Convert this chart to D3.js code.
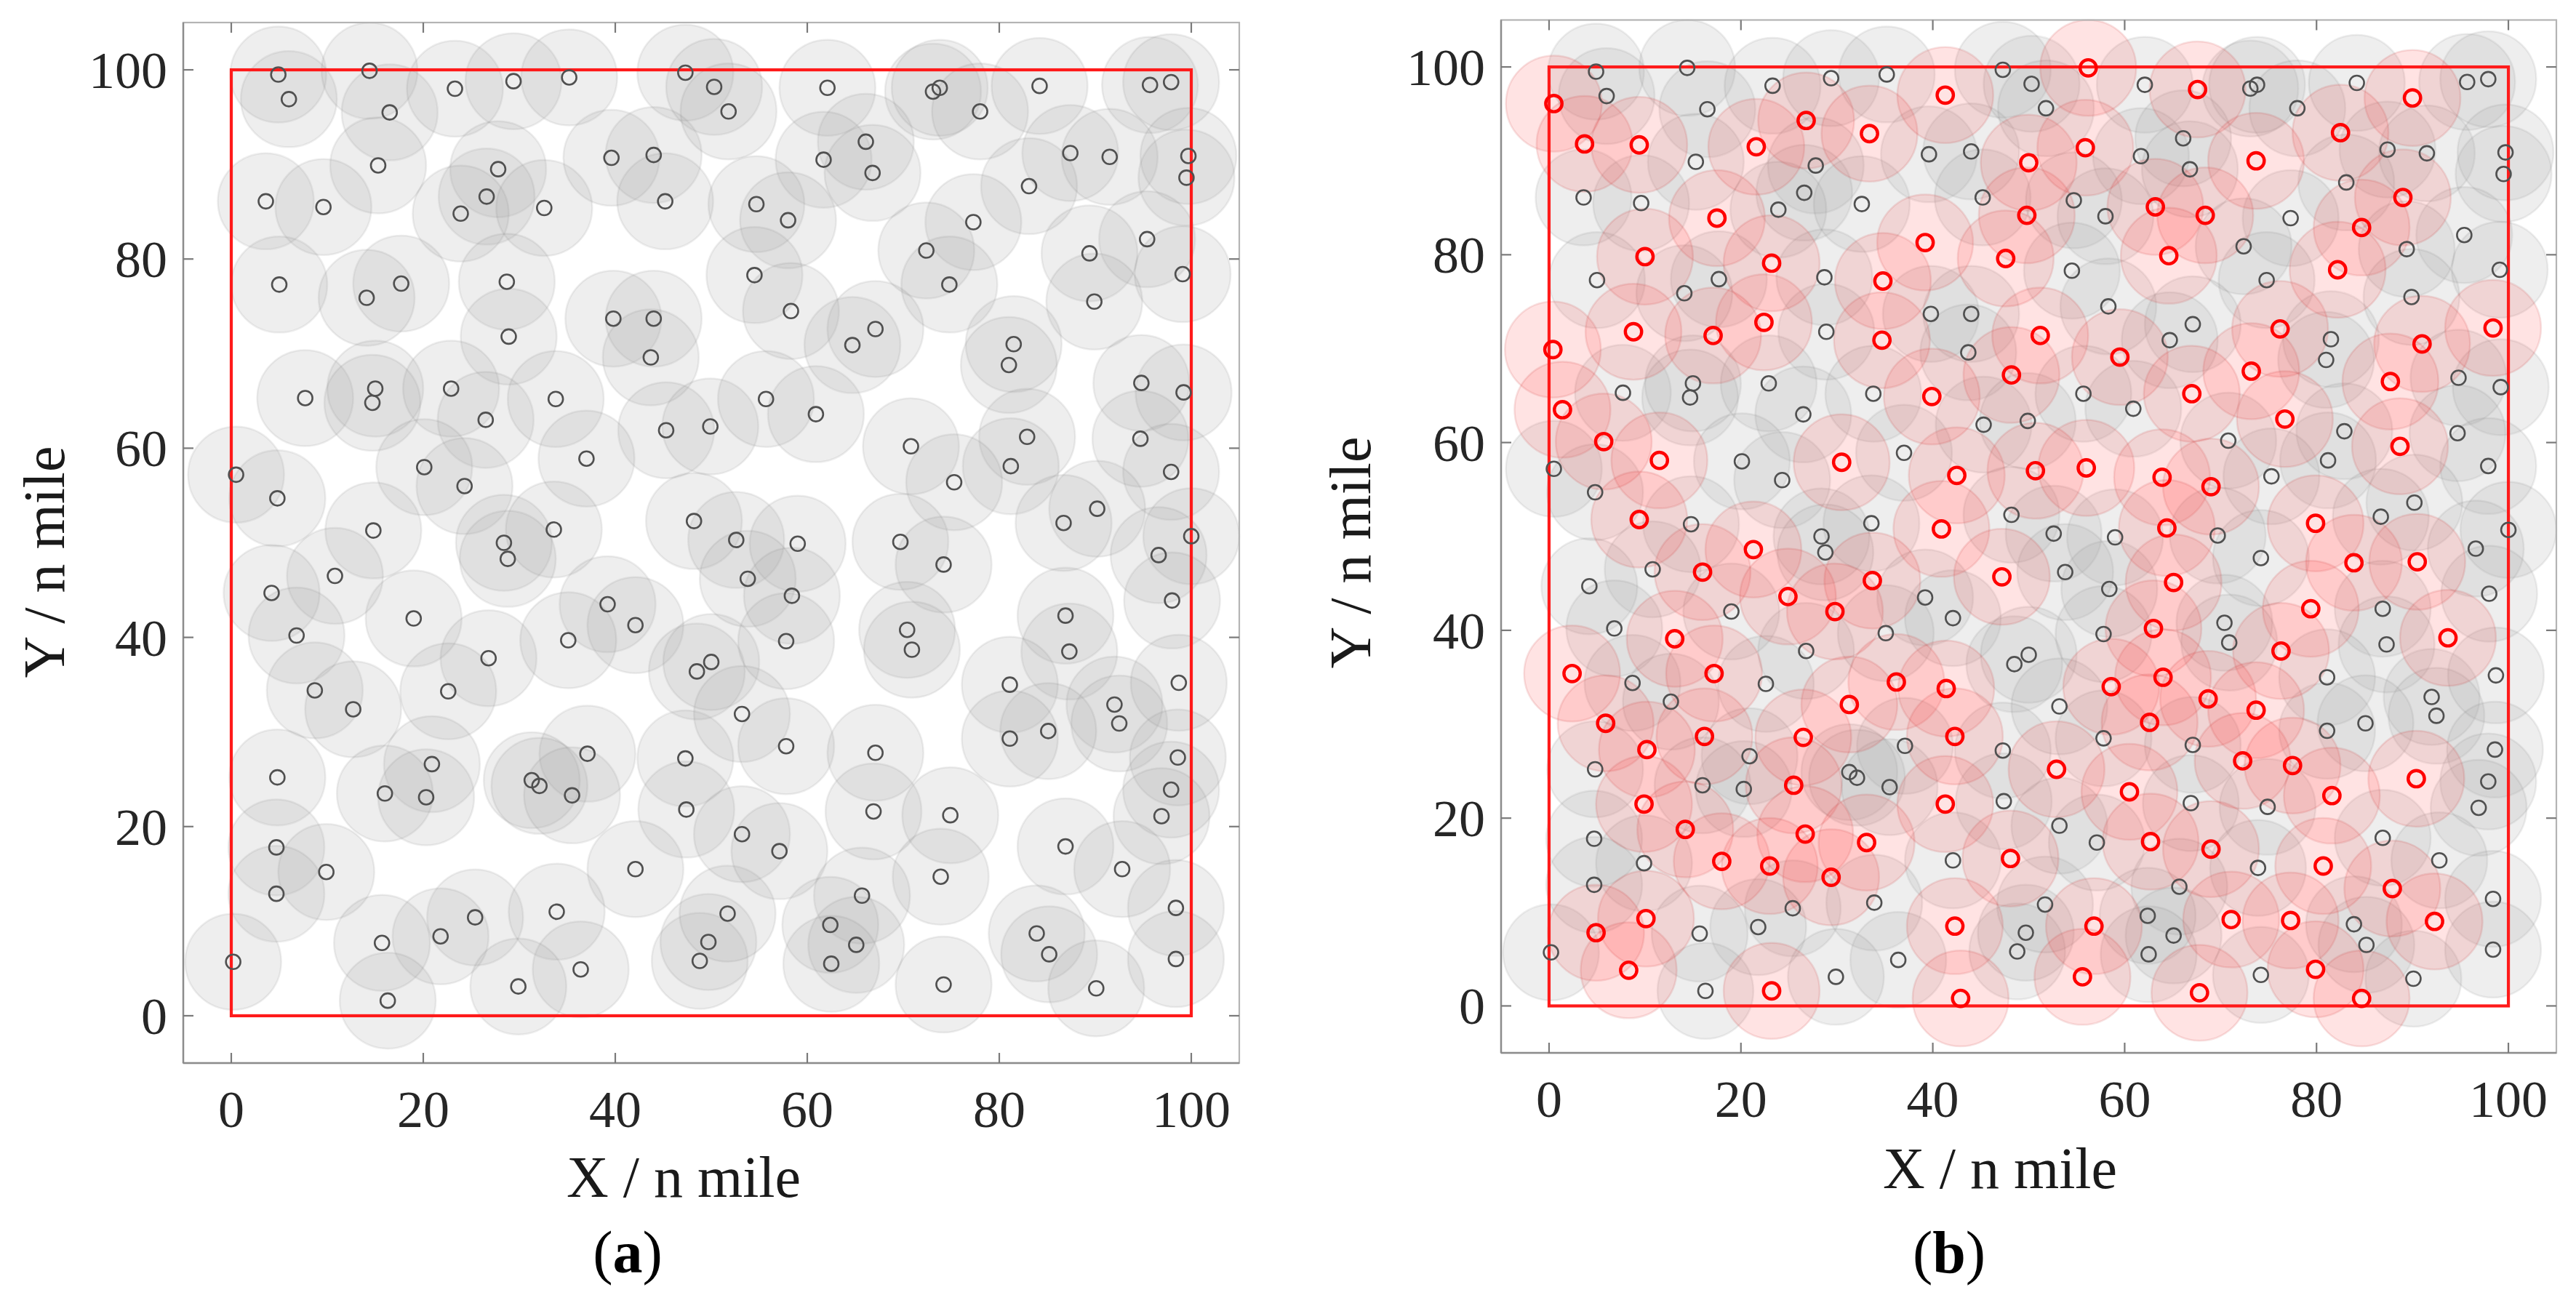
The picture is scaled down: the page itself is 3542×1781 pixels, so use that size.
<!DOCTYPE html>
<html><head><meta charset="utf-8">
<script src="https://cdn.jsdelivr.net/npm/d3@7"></script>
<style>body{margin:0;background:#fff}svg{display:block}</style>
</head><body>
<svg id="c" width="3542" height="1781"></svg>
<script>
// ---- data (n mile) ----
const grayX = [4.9,6.0,14.4,16.5,23.3,29.4,35.2,47.3,50.3,
15.3,3.6,9.6,27.8,26.6,23.9,32.6,39.6,44.0,45.2,
5.0,17.7,14.1,28.7,28.9,39.8,44.0,43.7,
7.7,15.0,14.7,22.9,26.5,33.8,45.3,49.9,
37.0,0.5,4.8,20.1,24.3,14.8,28.4,33.6,48.2,
28.8,10.8,4.2,6.8,19.0,26.8,22.6,8.7,12.7,
39.2,42.1,35.1,48.5,50.0,
4.8,20.9,16.0,20.3,37.1,31.3,32.1,35.5,47.3,47.4,
4.7,9.9,4.7,42.1,25.4,21.8,15.7,33.9,36.4,29.9,16.3,0.2,48.8,49.7,51.7,
51.8,62.1,73.1,73.8,78.0,84.2,95.7,97.9,
66.1,61.7,66.8,87.4,91.5,83.1,99.7,99.5,
54.7,58.0,77.3,72.4,74.8,95.4,89.4,99.1,89.9,
54.5,58.3,67.1,64.7,81.5,81.0,94.8,99.2,
55.7,60.9,70.8,82.9,81.2,75.3,94.7,97.9,90.2,86.7,100.0,
52.6,59.0,69.7,74.2,96.6,98.0,53.8,58.4,57.8,
70.4,70.9,86.9,87.3,81.1,92.0,92.5,98.7,85.1,81.1,
53.2,57.8,67.1,66.9,74.9,98.6,97.9,96.9,
53.2,57.1,86.9,92.8,73.9,65.7,62.4,65.1,62.5,74.2,83.9,85.2,90.1,98.4,98.4];
const grayY = [99.5,96.9,99.9,95.5,98.0,98.8,99.2,99.7,98.2,
89.9,86.1,85.5,89.5,86.6,84.8,85.4,90.7,91.0,86.1,
77.3,77.4,75.9,77.6,71.8,73.7,73.7,69.6,
65.3,66.3,64.8,66.3,63.0,65.2,61.9,62.3,
58.9,57.2,54.7,58.0,56.0,51.3,50.0,51.4,52.3,
48.3,46.5,44.7,40.2,42.0,37.8,34.3,34.4,32.4,
43.5,41.3,39.7,36.4,37.4,
25.2,26.6,23.5,23.1,27.7,24.9,24.3,23.3,27.2,21.8,
17.8,15.2,12.9,15.5,10.4,8.4,7.7,11.0,4.9,3.1,1.6,5.7,5.8,7.8,10.8,
95.6,98.1,97.7,98.1,95.6,98.3,98.4,98.7,
92.4,90.5,89.1,91.2,90.8,87.7,90.9,88.6,
85.8,84.1,83.9,80.9,77.3,82.1,80.6,78.4,75.5,
78.3,74.5,72.6,70.9,71.0,68.8,66.9,65.9,
65.2,63.6,60.2,61.2,58.1,56.4,61.0,57.5,53.6,52.1,50.7,
50.3,49.9,50.1,47.7,48.7,43.9,46.2,44.4,39.6,
40.8,38.7,42.3,38.5,35.0,32.9,30.9,35.2,30.1,29.3,
31.9,28.5,27.8,21.6,21.2,27.3,23.9,21.1,
19.2,17.4,17.9,15.5,14.7,12.7,9.6,7.5,5.5,3.3,8.7,6.5,2.9,11.4,6.0];
const redX = [0.5,3.7,9.4,21.6,26.8,33.4,41.3,50.0,49.8,
17.5,10.0,23.2,39.2,47.6,34.8,22.4,8.8,17.1,0.4,34.7,48.2,39.9,1.4,5.7,11.5,30.5,42.5,9.4,40.9,
56.2,67.6,90.0,55.9,73.7,82.5,89.0,63.2,68.4,84.7,64.6,82.2,51.2,59.5,76.2,98.4,91.0,73.2,67.0,87.7,76.7,88.7,50.7,56.0,63.9,69.0,64.4,79.9,
21.3,16.0,33.7,24.9,29.8,47.2,13.1,2.4,17.2,36.2,41.4,31.3,5.9,16.2,26.5,42.3,10.2,25.5,9.9,41.3,14.2,26.7,33.1,18.0,23.0,29.4,48.1,10.1,4.9,42.3,8.3,23.2,42.9,
83.9,90.5,65.1,79.4,63.0,76.3,93.7,64.0,58.6,68.7,73.7,62.6,52.9,72.3,77.5,90.4,60.5,81.6,62.7,69.0,80.7,87.9,56.8,71.1,77.3,92.3,55.6,67.8,79.9,84.7];
const redY = [96.1,91.8,91.7,91.5,94.3,92.9,97.0,89.8,84.2,
83.9,79.8,79.1,81.3,79.6,77.2,72.8,71.8,71.4,69.9,70.9,67.2,64.9,63.5,60.1,58.1,57.9,56.5,51.8,50.8,
99.9,97.6,96.7,91.4,90.0,93.0,86.1,85.1,84.2,82.9,79.9,78.4,71.4,69.1,72.1,72.2,70.5,67.6,65.2,66.5,62.5,59.6,57.0,57.3,56.3,55.3,50.9,51.4,
48.6,46.2,45.3,43.6,42.0,45.7,39.1,35.4,35.4,34.5,33.8,32.1,30.1,28.7,28.6,28.7,27.3,23.5,21.5,21.5,18.8,18.3,17.4,15.4,14.9,13.7,15.7,9.3,7.8,8.5,3.8,1.6,0.8,
47.2,47.3,45.1,42.3,40.2,37.8,39.2,35.0,34.0,32.7,31.5,30.2,25.2,26.1,25.6,24.2,22.8,22.4,17.5,16.7,14.9,12.5,8.5,9.2,9.1,9.0,3.1,1.4,3.9,0.8];
const tickValues = [0, 20, 40, 60, 80, 100];
const axisDomain = [-5, 105];
const regionBounds = [0, 100];
const coverRadius = 5;
const xTitle = "X / n mile";
const yTitle = "Y / n mile";
const panelLetters = ["a", "b"];

// ---- layout ----
const svg = d3.select("#c");
const FONT = "'Liberation Serif','Times New Roman',serif";
const panels = [
  {left:252, right:1704, top:31, bottom:1462, red:false, letter:panelLetters[0],
   yT:[61,773], xT:[940,1646], lab:[863,1750]},
  {left:2064, right:3515, top:27.5, bottom:1448, red:true, letter:panelLetters[1],
   yT:[1857,760], xT:[2750,1634], lab:[2680,1750]}
];
const gray = grayX.map((x,i)=>({x, y:grayY[i]}));
const red = redX.map((x,i)=>({x, y:redY[i]}));

panels.forEach(p => {
  const x = d3.scaleLinear().domain(axisDomain).range([p.left, p.right]);
  const y = d3.scaleLinear().domain(axisDomain).range([p.bottom, p.top]);
  const g = svg.append("g");
  const rr = x(coverRadius) - x(0);

  // gray coverage halos
  g.append("g").selectAll("circle").data(gray).join("circle")
    .attr("cx", d=>x(d.x)).attr("cy", d=>y(d.y)).attr("r", rr)
    .attr("fill", "rgba(165,165,165,0.19)")
    .attr("stroke", "rgba(120,120,120,0.13)").attr("stroke-width", 2.5);
  if (p.red) {
    g.append("g").selectAll("circle").data(red).join("circle")
      .attr("cx", d=>x(d.x)).attr("cy", d=>y(d.y)).attr("r", rr)
      .attr("fill", "rgba(255,70,70,0.15)")
      .attr("stroke", "rgba(200,50,50,0.14)").attr("stroke-width", 2.5);
  }

  // axes box
  g.append("rect").attr("x", p.left).attr("y", p.top)
    .attr("width", p.right-p.left).attr("height", p.bottom-p.top)
    .attr("fill", "none").attr("stroke", "#b4b4b4").attr("stroke-width", 2.2);
  g.append("line").attr("x1", p.left).attr("x2", p.left).attr("y1", p.top).attr("y2", p.bottom)
    .attr("stroke", "#8c8c8c").attr("stroke-width", 2.4);
  g.append("line").attr("x1", p.left).attr("x2", p.right).attr("y1", p.bottom).attr("y2", p.bottom)
    .attr("stroke", "#8c8c8c").attr("stroke-width", 2.4);

  // ticks (inward, mirrored)
  const tl = 14;
  const tg = g.append("g").attr("stroke", "#7a7a7a").attr("stroke-width", 2.2);
  tickValues.forEach(t => {
    tg.append("line").attr("x1", x(t)).attr("x2", x(t)).attr("y1", p.bottom).attr("y2", p.bottom-tl);
    tg.append("line").attr("x1", x(t)).attr("x2", x(t)).attr("y1", p.top).attr("y2", p.top+tl);
    tg.append("line").attr("y1", y(t)).attr("y2", y(t)).attr("x1", p.left).attr("x2", p.left+tl);
    tg.append("line").attr("y1", y(t)).attr("y2", y(t)).attr("x1", p.right).attr("x2", p.right-tl);
  });
  const xf = d3.format("d");
  g.append("g").selectAll("text").data(tickValues).join("text")
    .attr("x", d=>x(d)).attr("y", p.bottom+88).attr("text-anchor","middle")
    .attr("font-family", FONT).attr("font-size", 72).attr("fill", "#262626").text(xf);
  g.append("g").selectAll("text").data(tickValues).join("text")
    .attr("x", p.left-22).attr("y", d=>y(d)+25).attr("text-anchor","end")
    .attr("font-family", FONT).attr("font-size", 72).attr("fill", "#262626").text(xf);

  // target region boundary
  g.append("rect").attr("x", x(regionBounds[0])).attr("y", y(regionBounds[1]))
    .attr("width", x(regionBounds[1])-x(regionBounds[0]))
    .attr("height", y(regionBounds[0])-y(regionBounds[1]))
    .attr("fill","none").attr("stroke","#ff1a1a").attr("stroke-width",4.2);

  // markers
  g.append("g").selectAll("circle").data(gray).join("circle")
    .attr("cx", d=>x(d.x)).attr("cy", d=>y(d.y)).attr("r", 10)
    .attr("fill","none").attr("stroke","#505050").attr("stroke-width",2.6);
  if (p.red) {
    g.append("g").selectAll("circle").data(red).join("circle")
      .attr("cx", d=>x(d.x)).attr("cy", d=>y(d.y)).attr("r", 11.2)
      .attr("fill","none").attr("stroke","#ff0000").attr("stroke-width",4.4);
  }

  // titles
  g.append("text").attr("x", p.xT[0]).attr("y", p.xT[1]).attr("text-anchor","middle")
    .attr("font-family", FONT).attr("font-size", 80).attr("fill","#1a1a1a").text(xTitle);
  g.append("text").attr("transform", `translate(${p.yT[0]},${p.yT[1]}) rotate(-90)`)
    .attr("text-anchor","middle").attr("dominant-baseline","central")
    .attr("font-family", FONT).attr("font-size", 80).attr("fill","#1a1a1a").text(yTitle);
  const lt = g.append("text").attr("x", p.lab[0]).attr("y", p.lab[1]).attr("text-anchor","middle")
    .attr("font-family", FONT).attr("font-size", 82).attr("fill","#000");
  lt.append("tspan").text("(");
  lt.append("tspan").attr("font-weight","bold").text(p.letter);
  lt.append("tspan").text(")");
});
</script>
</body></html>
